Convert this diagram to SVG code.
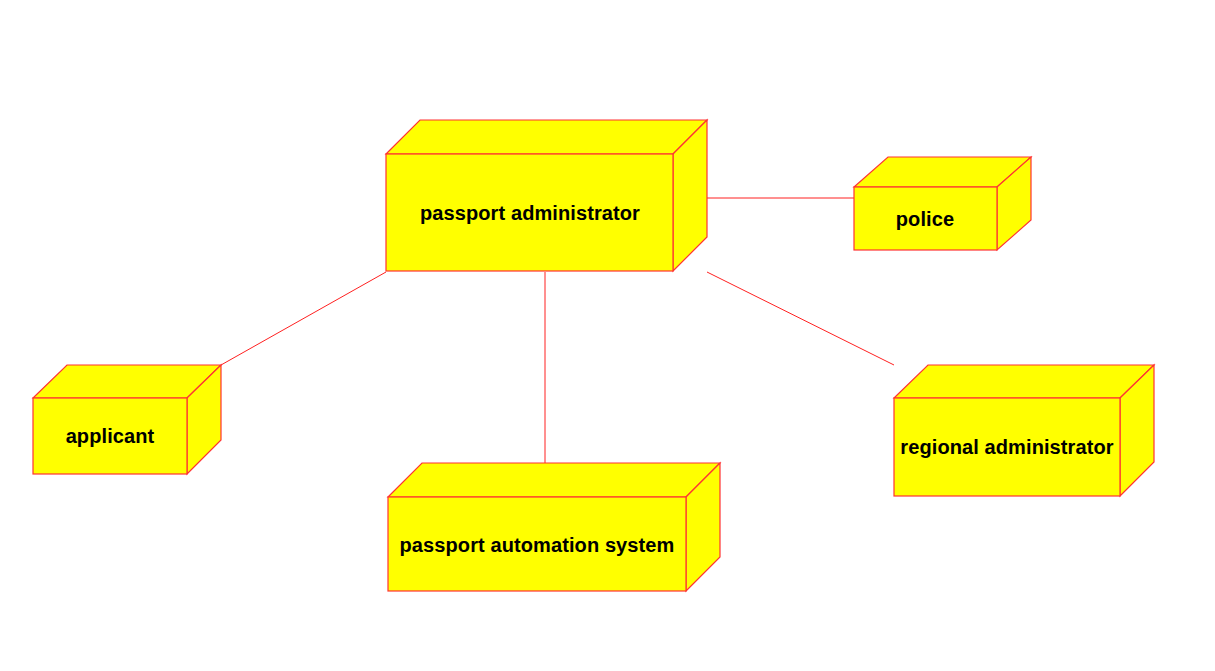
<svg xmlns="http://www.w3.org/2000/svg" width="1215" height="671" viewBox="0 0 1215 671">
<style>
.n{fill:#FFFF00;stroke:#FF3333;stroke-width:1.2;stroke-linejoin:miter}
.c{stroke:#FF2020;stroke-width:1;fill:none}
.t{font-family:"Liberation Sans",Arial,sans-serif;font-weight:bold;font-size:20px;letter-spacing:0.1px;fill:#000;text-anchor:middle}
</style>
<rect width="1215" height="671" fill="#FFFFFF"/>
<g id="connectors">
<line class="c" x1="707" y1="198" x2="854" y2="198"/>
<line class="c" x1="707" y1="272" x2="894" y2="365"/>
<line class="c" x1="386" y1="272" x2="221" y2="365"/>
<line class="c" x1="545" y1="272" x2="545" y2="463"/>
</g>
<g id="passport-administrator">
<polygon class="n" points="386,154 420,120 707,120 673,154"/>
<polygon class="n" points="673,154 707,120 707,237 673,271"/>
<rect class="n" x="386" y="154" width="287" height="117"/>
<text class="t" x="530" y="220">passport administrator</text>
</g>
<g id="police">
<polygon class="n" points="854,187 888,157 1031,157 997,187"/>
<polygon class="n" points="997,187 1031,157 1031,220 997,250"/>
<rect class="n" x="854" y="187" width="143" height="63"/>
<text class="t" x="925" y="226">police</text>
</g>
<g id="applicant">
<polygon class="n" points="33,398 67,365 221,365 187,398"/>
<polygon class="n" points="187,398 221,365 221,440 187,474"/>
<rect class="n" x="33" y="398" width="154" height="76"/>
<text class="t" x="110" y="443">applicant</text>
</g>
<g id="passport-automation-system">
<polygon class="n" points="388,497 422,463 720,463 686,497"/>
<polygon class="n" points="686,497 720,463 720,557 686,591"/>
<rect class="n" x="388" y="497" width="298" height="94"/>
<text class="t" x="537" y="552">passport automation system</text>
</g>
<g id="regional-administrator">
<polygon class="n" points="894,398 928,365 1154,365 1120,398"/>
<polygon class="n" points="1120,398 1154,365 1154,462 1120,496"/>
<rect class="n" x="894" y="398" width="226" height="98"/>
<text class="t" x="1007" y="454">regional administrator</text>
</g>
</svg>
